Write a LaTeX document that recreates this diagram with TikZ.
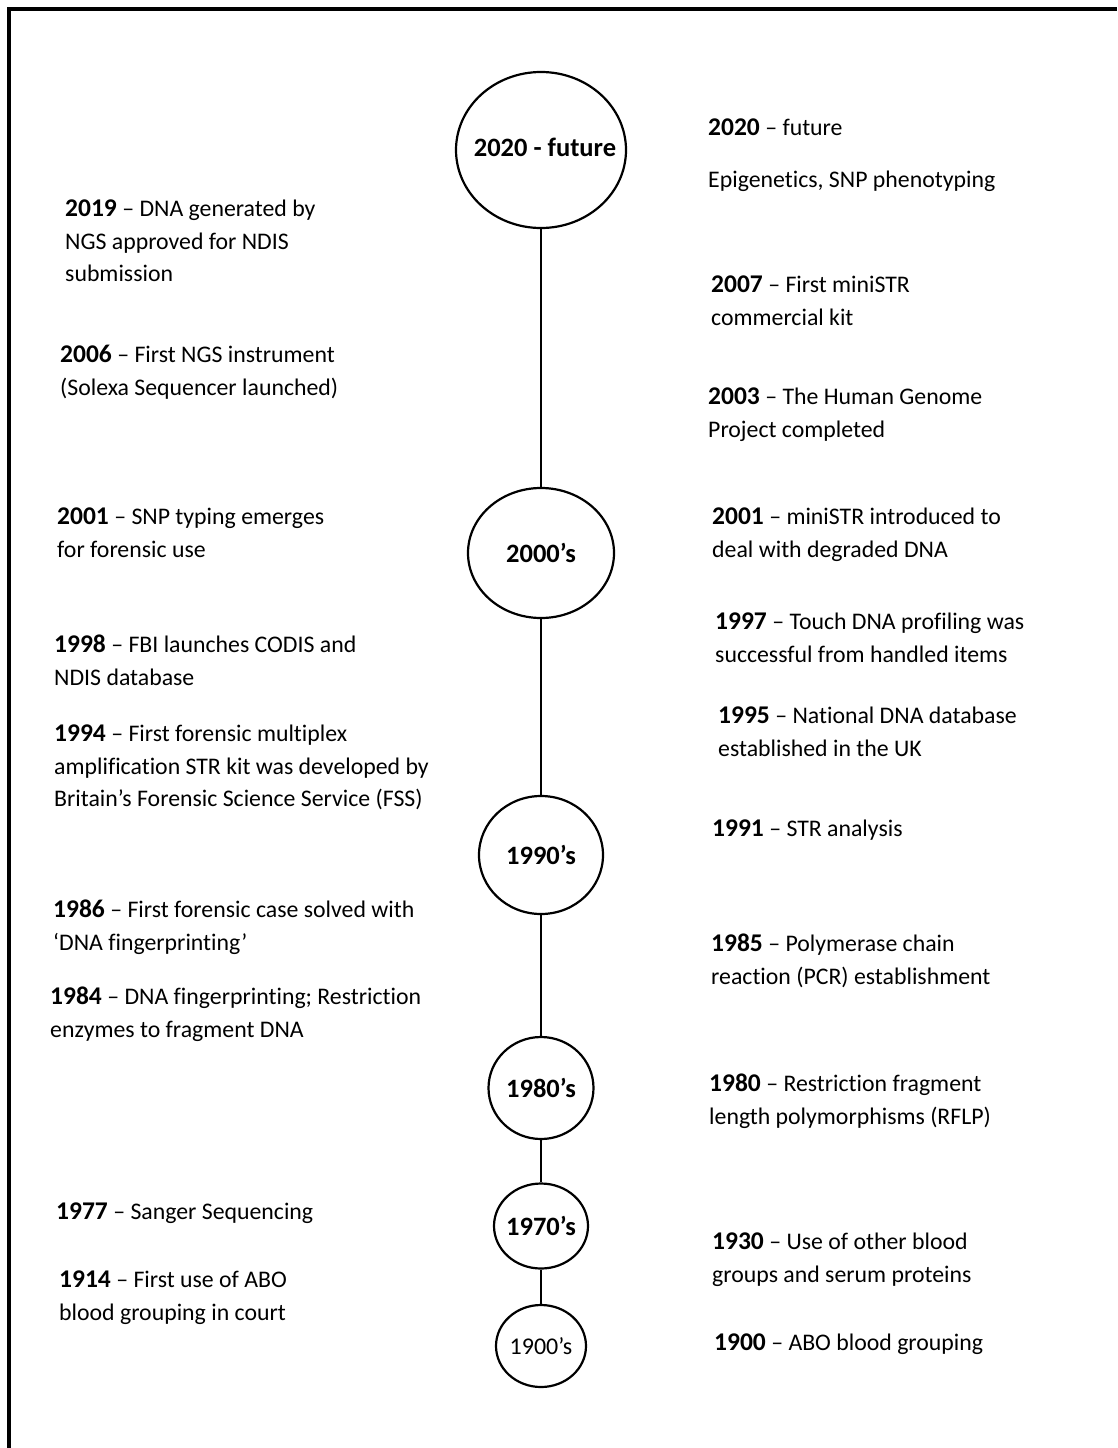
\documentclass[tikz,border=0pt]{standalone}
\usepackage{fontspec}
\setmainfont{Carlito}[Ligatures=NoCommon]
\usetikzlibrary{shapes.geometric}
\newcommand{\yr}[1]{{\fontsize{25.5}{32.5}\selectfont\bfseries #1}}
\tikzset{
  entry/.style={anchor=north west, inner sep=0pt, align=left,
    font=\fontsize{23.8}{32.5}\selectfont},
  era/.style={draw, ellipse, line width=2.2pt, inner sep=0pt},
  eratext/.style={inner sep=0pt, font=\fontsize{26.5}{30}\selectfont\bfseries},
  spine/.style={line width=2.2pt},
}
\begin{document}
\begin{tikzpicture}[x=1pt,y=-1pt]
\useasboundingbox (0,0) rectangle (1117,1448);
\draw[line width=3.5pt] (9,1448) -- (9,9) -- (1117,9);

% era circles
\node[era, minimum width=170pt, minimum height=156pt] (c2020) at (541,150) {};
\node[era, minimum width=146pt, minimum height=130pt] (c2000) at (541,553) {};
\node[era, minimum width=124pt, minimum height=118pt] (c1990) at (541,855) {};
\node[era, minimum width=105pt, minimum height=102pt] (c1980) at (541,1088) {};
\node[era, minimum width=94pt, minimum height=85pt] (c1970) at (541,1226) {};
\node[era, minimum width=90pt, minimum height=82pt] (c1900) at (541,1346) {};

\node[eratext] (t2020) at ([xshift=4pt,yshift=3pt]c2020.center) {2020 - future};
\node[eratext] (t2000) at (c2000) {2000’s};
\node[eratext] (t1990) at (c1990) {1990’s};
\node[eratext] (t1980) at (c1980) {1980’s};
\node[eratext] (t1970) at (c1970) {1970’s};
\node[eratext, font=\fontsize{24}{28}\selectfont] (t1900) at (c1900) {1900’s};

\draw[spine] (c2020.south) -- (c2000.north);
\draw[spine] (c2000.south) -- (c1990.north);
\draw[spine] (c1990.south) -- (c1980.north);
\draw[spine] (c1980.south) -- (c1970.north);
\draw[spine] (c1970.south) -- (c1900.north);

% right side
\node[entry] (r2020) at (708,113) {\strut\yr{2020} – future};
\node[entry] (rEpi) at (708,165) {\strut Epigenetics, SNP phenotyping};
\node[entry] (r2007) at (711,270) {\strut\yr{2007} – First miniSTR\\commercial kit};
\node[entry] (r2003) at (708,382) {\strut\yr{2003} – The Human Genome\\Project completed};
\node[entry] (r2001) at (712,502) {\strut\yr{2001} – miniSTR introduced to\\deal with degraded DNA};
\node[entry] (r1997) at (715,607) {\strut\yr{1997} – Touch DNA profiling was\\successful from handled items};
\node[entry] (r1995) at (718,701) {\strut\yr{1995} – National DNA database\\established in the UK};
\node[entry] (r1991) at (712,814) {\strut\yr{1991} – STR analysis};
\node[entry] (r1985) at (711,929) {\strut\yr{1985} – Polymerase chain\\reaction (PCR) establishment};
\node[entry] (r1980) at (709,1069) {\strut\yr{1980} – Restriction fragment\\length polymorphisms (RFLP)};
\node[entry] (r1930) at (712,1227) {\strut\yr{1930} – Use of other blood\\groups and serum proteins};
\node[entry] (r1900) at (714,1328) {\strut\yr{1900} – ABO blood grouping};

% left side
\node[entry] (l2019) at (65,194) {\strut\yr{2019} – DNA generated by\\NGS approved for NDIS\\submission};
\node[entry] (l2006) at (60,340) {\strut\yr{2006} – First NGS instrument\\(Solexa Sequencer launched)};
\node[entry] (l2001) at (57,502) {\strut\yr{2001} – SNP typing emerges\\for forensic use};
\node[entry] (l1998) at (54,630) {\strut\yr{1998} – FBI launches CODIS and\\NDIS database};
\node[entry] (l1994) at (54,719) {\strut\yr{1994} – First forensic multiplex\\amplification STR kit was developed by\\Britain’s Forensic Science Service (FSS)};
\node[entry] (l1986) at (53,895) {\strut\yr{1986} – First forensic case solved with\\‘DNA fingerprinting’};
\node[entry] (l1984) at (50,982) {\strut\yr{1984} – DNA fingerprinting; Restriction\\enzymes to fragment DNA};
\node[entry] (l1977) at (56,1197) {\strut\yr{1977} – Sanger Sequencing};
\node[entry] (l1914) at (59,1265) {\strut\yr{1914} – First use of ABO\\blood grouping in court};
\end{tikzpicture}
\end{document}
